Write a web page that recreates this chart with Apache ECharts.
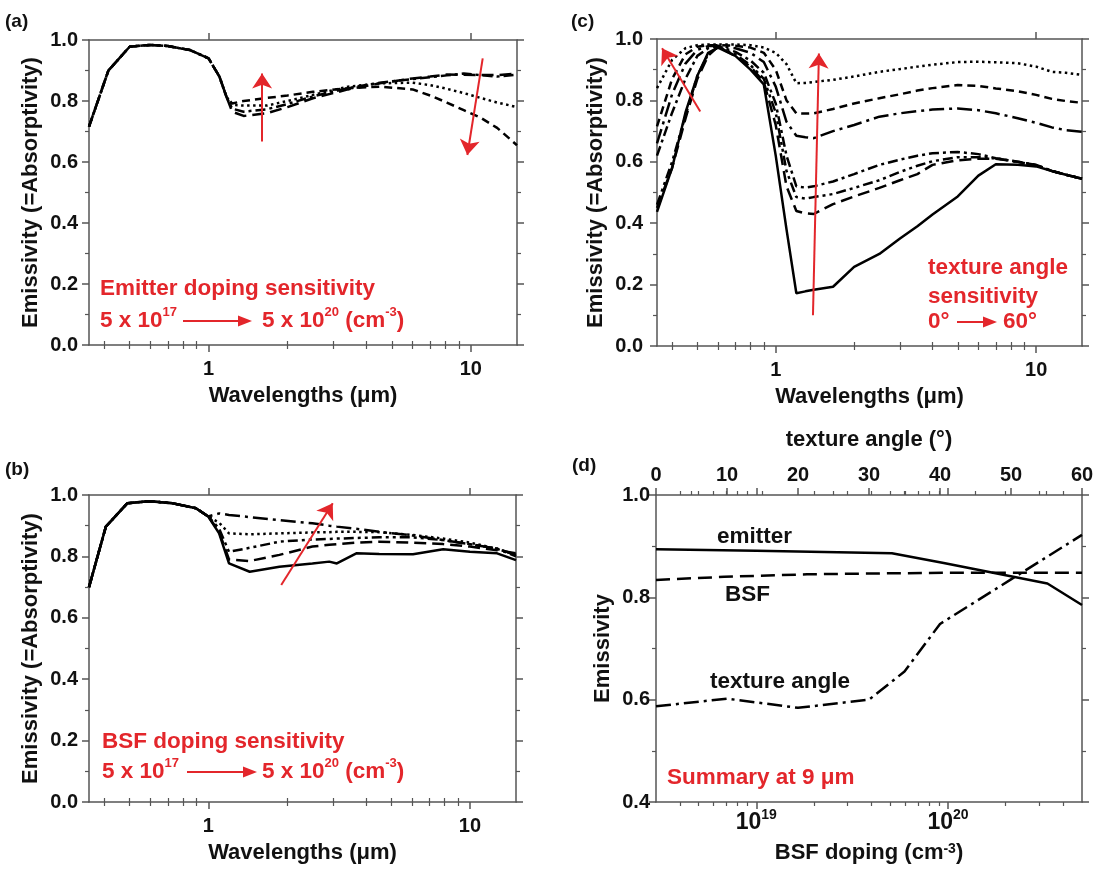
<!DOCTYPE html>
<html>
<head>
<meta charset="utf-8">
<script src="https://cdn.jsdelivr.net/npm/echarts@6/dist/echarts.min.js"></script>
<style>
  html, body { margin: 0; padding: 0; background: #fff; }
  #chart { width: 1100px; height: 875px; }
</style>
</head>
<body>
<div id="chart"></div>
<script>
// ---- (a) emitter doping sweep ----
const wlA = [0.35, 0.415, 0.5, 0.6, 0.7, 0.85, 1.0, 1.1, 1.17, 1.23, 1.36, 1.67, 2.0, 2.5, 3.4, 4.5, 6.0, 7.0, 8.1, 9.4, 10.9, 12.6, 15]
const emitHead = [0.716, 0.90, 0.978, 0.984, 0.98, 0.967, 0.94, 0.88, 0.814]
const em5e17 = [0.765, 0.751, 0.76, 0.78, 0.809, 0.838, 0.858, 0.874, 0.88, 0.887, 0.886, 0.885, 0.885, 0.89]
const em5e18 = [0.775, 0.765, 0.773, 0.79, 0.815, 0.842, 0.86, 0.872, 0.878, 0.884, 0.89, 0.885, 0.88, 0.886]
const em5e19 = [0.787, 0.785, 0.785, 0.80, 0.82, 0.847, 0.858, 0.86, 0.852, 0.84, 0.826, 0.81, 0.795, 0.78]
const em5e20 = [0.792, 0.80, 0.81, 0.818, 0.83, 0.842, 0.847, 0.838, 0.818, 0.795, 0.77, 0.745, 0.712, 0.655]

// ---- (b) BSF doping sweep ----
const wlB = [0.35, 0.406, 0.49, 0.594, 0.73, 0.897, 1.0, 1.1, 1.2, 1.44, 1.87, 2.5, 2.9, 3.1, 3.68, 4.5, 6.06, 7.9, 10, 12.7, 15]
const bsfHead = [0.70, 0.897, 0.973, 0.98, 0.973, 0.957, 0.93]
const bsf5e17 = [0.875, 0.777, 0.75, 0.766, 0.777, 0.783, 0.777, 0.81, 0.808, 0.807, 0.823, 0.815, 0.81, 0.788]
const bsf5e18 = [0.88, 0.79, 0.785, 0.805, 0.832, 0.838, 0.84, 0.845, 0.848, 0.845, 0.84, 0.832, 0.82, 0.81]
const bsf5e19 = [0.89, 0.815, 0.828, 0.848, 0.855, 0.857, 0.858, 0.86, 0.862, 0.862, 0.853, 0.84, 0.825, 0.80]
const bsf1e20 = [0.91, 0.875, 0.872, 0.875, 0.878, 0.879, 0.88, 0.88, 0.879, 0.87, 0.858, 0.845, 0.825, 0.805]
const bsf5e20 = [0.94, 0.935, 0.928, 0.918, 0.908, 0.90, 0.897, 0.89, 0.88, 0.868, 0.853, 0.84, 0.825, 0.805]

// ---- (c) texture angle sweep ----
const wlC = [0.35, 0.40, 0.45, 0.5, 0.55, 0.6, 0.7, 0.8, 0.9, 1.0, 1.1, 1.2, 1.3, 1.4, 1.66, 2.0, 2.5, 3.0, 3.5, 4.0, 5.0, 6.0, 7.0, 8.5, 10, 11.5, 13, 15]
const tex0 = [0.437, 0.58, 0.76, 0.88, 0.955, 0.972, 0.945, 0.90, 0.852, 0.62, 0.38, 0.172, 0.178, 0.183, 0.193, 0.258, 0.30, 0.35, 0.39, 0.428, 0.487, 0.555, 0.592, 0.59, 0.585, 0.57, 0.558, 0.545]
const tex10 = [0.45, 0.58, 0.74, 0.87, 0.945, 0.975, 0.945, 0.91, 0.86, 0.72, 0.52, 0.44, 0.432, 0.43, 0.462, 0.487, 0.515, 0.54, 0.56, 0.59, 0.605, 0.61, 0.61, 0.60, 0.588, 0.57, 0.558, 0.545]
const tex20 = [0.46, 0.60, 0.75, 0.88, 0.95, 0.975, 0.95, 0.915, 0.87, 0.76, 0.57, 0.485, 0.48, 0.485, 0.495, 0.515, 0.54, 0.567, 0.587, 0.602, 0.615, 0.615, 0.611, 0.60, 0.59, 0.57, 0.558, 0.545]
const tex30 = [0.62, 0.76, 0.87, 0.945, 0.97, 0.977, 0.958, 0.93, 0.89, 0.79, 0.62, 0.52, 0.516, 0.52, 0.536, 0.56, 0.59, 0.607, 0.62, 0.628, 0.632, 0.625, 0.612, 0.60, 0.59, 0.57, 0.558, 0.545]
const tex40 = [0.66, 0.82, 0.92, 0.965, 0.977, 0.978, 0.97, 0.955, 0.925, 0.845, 0.73, 0.685, 0.68, 0.677, 0.70, 0.72, 0.747, 0.758, 0.765, 0.77, 0.774, 0.768, 0.758, 0.742, 0.727, 0.712, 0.703, 0.698]
const tex50 = [0.715, 0.87, 0.95, 0.975, 0.98, 0.98, 0.978, 0.972, 0.955, 0.90, 0.80, 0.758, 0.757, 0.758, 0.772, 0.79, 0.807, 0.82, 0.832, 0.84, 0.85, 0.847, 0.839, 0.83, 0.818, 0.805, 0.798, 0.792]
const tex60 = [0.84, 0.932, 0.97, 0.98, 0.982, 0.982, 0.982, 0.98, 0.972, 0.955, 0.918, 0.856, 0.857, 0.86, 0.867, 0.878, 0.893, 0.902, 0.91, 0.916, 0.925, 0.926, 0.924, 0.921, 0.91, 0.893, 0.89, 0.883]

// ---- (d) summary at 9 um ----
const emitterDoping = [3e18, 1e19, 5.1e19, 9.5e19, 2e20, 3.3e20, 5e20]
const emitterEm = [0.894, 0.891, 0.886, 0.867, 0.843, 0.827, 0.785]
const bsfDoping = [3e18, 6.8e18, 1e19, 1.84e19, 5e19, 1e20, 2e20, 5e20]
const bsfEm = [0.834, 0.840, 0.842, 0.845, 0.847, 0.848, 0.848, 0.848]
const angleDeg = [0, 10, 20, 30, 35, 40, 50, 60]
const angleEm = [0.587, 0.602, 0.584, 0.600, 0.655, 0.748, 0.835, 0.922]

// tick positions
const wlMajor = [1, 10]
const wlMinor = [0.4, 0.5, 0.6, 0.7, 0.8, 0.9, 2, 3, 4, 5, 6, 7, 8, 9]
const dopMajor = [1e19, 1e20]
const dopMinor = [4e18, 5e18, 6e18, 7e18, 8e18, 9e18, 2e19, 3e19, 4e19, 5e19, 6e19, 7e19, 8e19, 9e19, 2e20, 3e20, 4e20]

const FONT = '"Liberation Sans", Arial, sans-serif'
const AX = '#555'
const RED = '#e3262b'
const DASH = {
  solid: 'solid',
  longDash: [12, 6],
  dash: [8, 5],
  shortDash: [6, 4],
  dot: [2.5, 3.5],
  dashDot: [10, 4, 3, 4],
  dashDotDot: [10, 4, 3, 4, 3, 4],
  longDashDot: [15, 5, 3, 5]
}

const grids = [
  { left: 89, top: 40, width: 428, height: 305 },
  { left: 89, top: 495, width: 427, height: 307 },
  { left: 657, top: 39, width: 425, height: 307 },
  { left: 656, top: 495, width: 426, height: 307 }
]

const xAxes = []
const yAxes = []
const addX = cfg => { xAxes.push(cfg); return xAxes.length - 1 }
const addY = cfg => { yAxes.push(cfg); return yAxes.length - 1 }

const tickLabel = (extra) => Object.assign({
  color: '#111', fontSize: 20, fontWeight: 'bold', fontFamily: FONT
}, extra)
const nameStyle = (extra) => Object.assign({
  color: '#111', fontSize: 22, fontWeight: 'bold', fontFamily: FONT
}, extra)

// log axis with major+minor ticks on both bottom and top
function logAxes (gi, min, max, major, minor, label, name, nameGap, showTop) {
  const base = { type: 'log', gridIndex: gi, min, max, splitLine: { show: false } }
  const main = addX(Object.assign({}, base, {
    position: 'bottom',
    axisLine: { show: true, onZero: false, lineStyle: { color: AX, width: 1.5 } },
    axisTick: { show: true, customValues: major, length: 7, lineStyle: { color: AX, width: 1.5 } },
    axisLabel: label,
    name, nameLocation: 'middle', nameGap, nameTextStyle: nameStyle(label.nameRich ? { rich: label.nameRich } : {})
  }))
  addX(Object.assign({}, base, {
    position: 'bottom',
    axisLine: { show: false },
    axisTick: { show: true, customValues: minor, length: 4, lineStyle: { color: AX, width: 1.2 } },
    axisLabel: { show: false }
  }))
  addX(Object.assign({}, base, {
    position: 'top',
    axisLine: { show: showTop, onZero: false, lineStyle: { color: AX, width: 1.5 } },
    axisTick: { show: true, customValues: major, length: 7, lineStyle: { color: AX, width: 1.5 } },
    axisLabel: { show: false }
  }))
  addX(Object.assign({}, base, {
    position: 'top',
    axisLine: { show: false },
    axisTick: { show: true, customValues: minor, length: 4, lineStyle: { color: AX, width: 1.2 } },
    axisLabel: { show: false }
  }))
  return main
}

function valueYAxes (gi, min, max, name, nameGap, labelMargin) {
  const base = {
    type: 'value', gridIndex: gi, min, max, interval: 0.2,
    splitLine: { show: false },
    axisLine: { show: true, onZero: false, lineStyle: { color: AX, width: 1.5 } },
    axisTick: { show: true, length: 7, lineStyle: { color: AX, width: 1.5 } },
    minorTick: { show: true, splitNumber: 2, length: 4, lineStyle: { color: AX, width: 1.2 } },
    minorSplitLine: { show: false }
  }
  const left = addY(Object.assign({}, base, {
    position: 'left',
    axisLabel: tickLabel({ margin: labelMargin, formatter: v => v.toFixed(1) }),
    name, nameLocation: 'middle', nameRotate: 90, nameGap, nameTextStyle: nameStyle()
  }))
  addY(Object.assign({}, base, { position: 'right', axisLabel: { show: false } }))
  return left
}

const wlLabel = tickLabel({ customValues: wlMajor, margin: 14, formatter: v => String(Math.round(v)) })
const WL_NAME = 'Wavelengths (μm)'
const Y_NAME = 'Emissivity (=Absorptivity)'

const xa = logAxes(0, 0.35, 15, wlMajor, wlMinor, wlLabel, WL_NAME, 40, true)
const ya = valueYAxes(0, 0, 1, Y_NAME, 47, 11)
const xb = logAxes(1, 0.35, 15, wlMajor, wlMinor, wlLabel, WL_NAME, 40, true)
const yb = valueYAxes(1, 0, 1, Y_NAME, 47, 11)
const xc = logAxes(2, 0.35, 15, wlMajor, wlMinor, wlLabel, WL_NAME, 40, true)
const yc = valueYAxes(2, 0, 1, Y_NAME, 50, 14)

const dopLabel = tickLabel({
  customValues: dopMajor, margin: 6, lineHeight: 30, fontSize: 23,
  formatter: v => '{base|10}{sup|' + Math.round(Math.log10(v)) + '}',
  rich: {
    base: { fontSize: 23, fontWeight: 'bold', fontFamily: FONT, color: '#111', verticalAlign: 'middle', lineHeight: 30 },
    sup: { fontSize: 14, fontWeight: 'bold', fontFamily: FONT, color: '#111', verticalAlign: 'top', lineHeight: 12 }
  },
  nameRich: { sup: { fontSize: 14, fontWeight: 'bold', fontFamily: FONT, color: '#111', verticalAlign: 'top', lineHeight: 12 } }
})
const xd = logAxes(3, 3e18, 5e20, dopMajor, dopMinor, dopLabel, 'BSF doping (cm{sup|-3})', 40, false)
const xdAngle = addX({
  type: 'value', gridIndex: 3, min: 0, max: 60, interval: 10, position: 'top',
  splitLine: { show: false },
  axisLine: { show: true, onZero: false, lineStyle: { color: AX, width: 1.5 } },
  axisTick: { show: true, length: 7, lineStyle: { color: AX, width: 1.5 } },
  minorTick: { show: true, splitNumber: 2, length: 4, lineStyle: { color: AX, width: 1.2 } },
  axisLabel: tickLabel({ margin: 10 }),
  name: 'texture angle (°)', nameLocation: 'middle', nameGap: 44, nameTextStyle: nameStyle()
})
const yd = valueYAxes(3, 0.4, 1.0, 'Emissivity', 42, 6)

function curve (name, xs, ys, xi, yi, dash, extra) {
  return Object.assign({
    name, type: 'line', xAxisIndex: xi, yAxisIndex: yi,
    data: xs.map((x, i) => [x, ys[i]]),
    symbol: 'none', showSymbol: false, animation: false, silent: true,
    lineStyle: { color: '#000', width: 2.5, type: dash }
  }, extra || {})
}

// red arrows inside the plots, given in data coordinates
function arrows (list) {
  return {
    markLine: {
      silent: true, animation: false,
      symbol: ['none', 'arrow'], symbolSize: 15,
      label: { show: false },
      lineStyle: { color: RED, width: 2, type: 'solid' },
      itemStyle: { color: RED },
      emphasis: { disabled: true },
      data: list.map(a => [
        { coord: a[0], symbol: 'none' },
        { coord: a[1], symbol: 'arrow', symbolSize: 15 }
      ])
    }
  }
}

const series = [
  curve('5e17', wlA, emitHead.concat(em5e17), xa, ya, DASH.longDash, arrows([
    [[1.6, 0.667], [1.6, 0.89]],
    [[11.1, 0.94], [9.7, 0.623]]
  ])),
  curve('5e18', wlA, emitHead.concat(em5e18), xa, ya, DASH.dashDot),
  curve('5e19', wlA, emitHead.concat(em5e19), xa, ya, DASH.dot),
  curve('5e20', wlA, emitHead.concat(em5e20), xa, ya, DASH.dash),

  curve('b5e17', wlB, bsfHead.concat(bsf5e17), xb, yb, DASH.solid, arrows([
    [[1.9, 0.707], [2.99, 0.973]]
  ])),
  curve('b5e18', wlB, bsfHead.concat(bsf5e18), xb, yb, DASH.longDash),
  curve('b5e19', wlB, bsfHead.concat(bsf5e19), xb, yb, DASH.dashDotDot),
  curve('b1e20', wlB, bsfHead.concat(bsf1e20), xb, yb, DASH.dot),
  curve('b5e20', wlB, bsfHead.concat(bsf5e20), xb, yb, DASH.longDashDot),

  curve('0deg', wlC, tex0, xc, yc, DASH.solid, arrows([
    [[0.513, 0.764], [0.366, 0.97]],
    [[1.39, 0.10], [1.465, 0.953]]
  ])),
  curve('10deg', wlC, tex10, xc, yc, DASH.longDash),
  curve('20deg', wlC, tex20, xc, yc, DASH.dashDotDot),
  curve('30deg', wlC, tex30, xc, yc, DASH.dashDot),
  curve('40deg', wlC, tex40, xc, yc, DASH.longDashDot),
  curve('50deg', wlC, tex50, xc, yc, DASH.dash),
  curve('60deg', wlC, tex60, xc, yc, DASH.dot),

  curve('emitter', emitterDoping, emitterEm, xd, yd, DASH.solid),
  curve('BSF', bsfDoping, bsfEm, xd, yd, [14, 7]),
  curve('texture angle', angleDeg, angleEm, xdAngle, yd, DASH.longDashDot)
]

// text annotations
function txt (x, y, text, size, color, rich) {
  return {
    type: 'text', x, y, silent: true,
    style: {
      text, fill: color, fontSize: size, fontWeight: 'bold', fontFamily: FONT,
      verticalAlign: 'middle', align: 'left', lineHeight: 30,
      rich: rich || {}
    }
  }
}
const supR = { sup: { fontSize: 13, fontWeight: 'bold', fontFamily: FONT, fill: RED, verticalAlign: 'top', lineHeight: 12 } }
function redArrow (x1, x2, y) {
  return {
    type: 'group', silent: true,
    children: [
      { type: 'line', shape: { x1, y1: y, x2: x2 - 10, y2: y }, style: { stroke: RED, lineWidth: 2 } },
      { type: 'polygon', shape: { points: [[x2 - 14, y - 5.5], [x2, y], [x2 - 14, y + 5.5]] }, style: { fill: RED } }
    ]
  }
}

const graphic = [
  txt(5, 22, '(a)', 19, '#111'),
  txt(571, 22, '(c)', 19, '#111'),
  txt(5, 470, '(b)', 19, '#111'),
  txt(572, 466, '(d)', 19, '#111'),

  txt(100, 289, 'Emitter doping sensitivity', 22.5, RED),
  txt(100, 321, '5 x 10{sup|17}', 22.5, RED, supR),
  redArrow(183, 252, 321),
  txt(262, 321, '5 x 10{sup|20} (cm{sup|-3})', 22.5, RED, supR),

  txt(102, 742, 'BSF doping sensitivity', 22.5, RED),
  txt(102, 772, '5 x 10{sup|17}', 22.5, RED, supR),
  redArrow(187, 257, 772),
  txt(262, 772, '5 x 10{sup|20} (cm{sup|-3})', 22.5, RED, supR),

  txt(928, 268, 'texture angle', 22.5, RED),
  txt(928, 297, 'sensitivity', 22.5, RED),
  txt(928, 322, '0°', 22.5, RED),
  redArrow(957, 997, 322),
  txt(1003, 322, '60°', 22.5, RED),

  txt(717, 537, 'emitter', 22.5, '#111'),
  txt(725, 595, 'BSF', 22.5, '#111'),
  txt(710, 682, 'texture angle', 22.5, '#111'),
  txt(667, 778, 'Summary at 9 μm', 22.5, RED)
]

const chart = echarts.init(document.getElementById('chart'), null, { renderer: 'canvas' })
chart.setOption({
  backgroundColor: '#fff',
  animation: false,
  grid: grids.map(g => Object.assign({ containLabel: false, outerBoundsMode: 'none' }, g)),
  xAxis: xAxes,
  yAxis: yAxes,
  series,
  graphic
})
</script>
</body>
</html>
